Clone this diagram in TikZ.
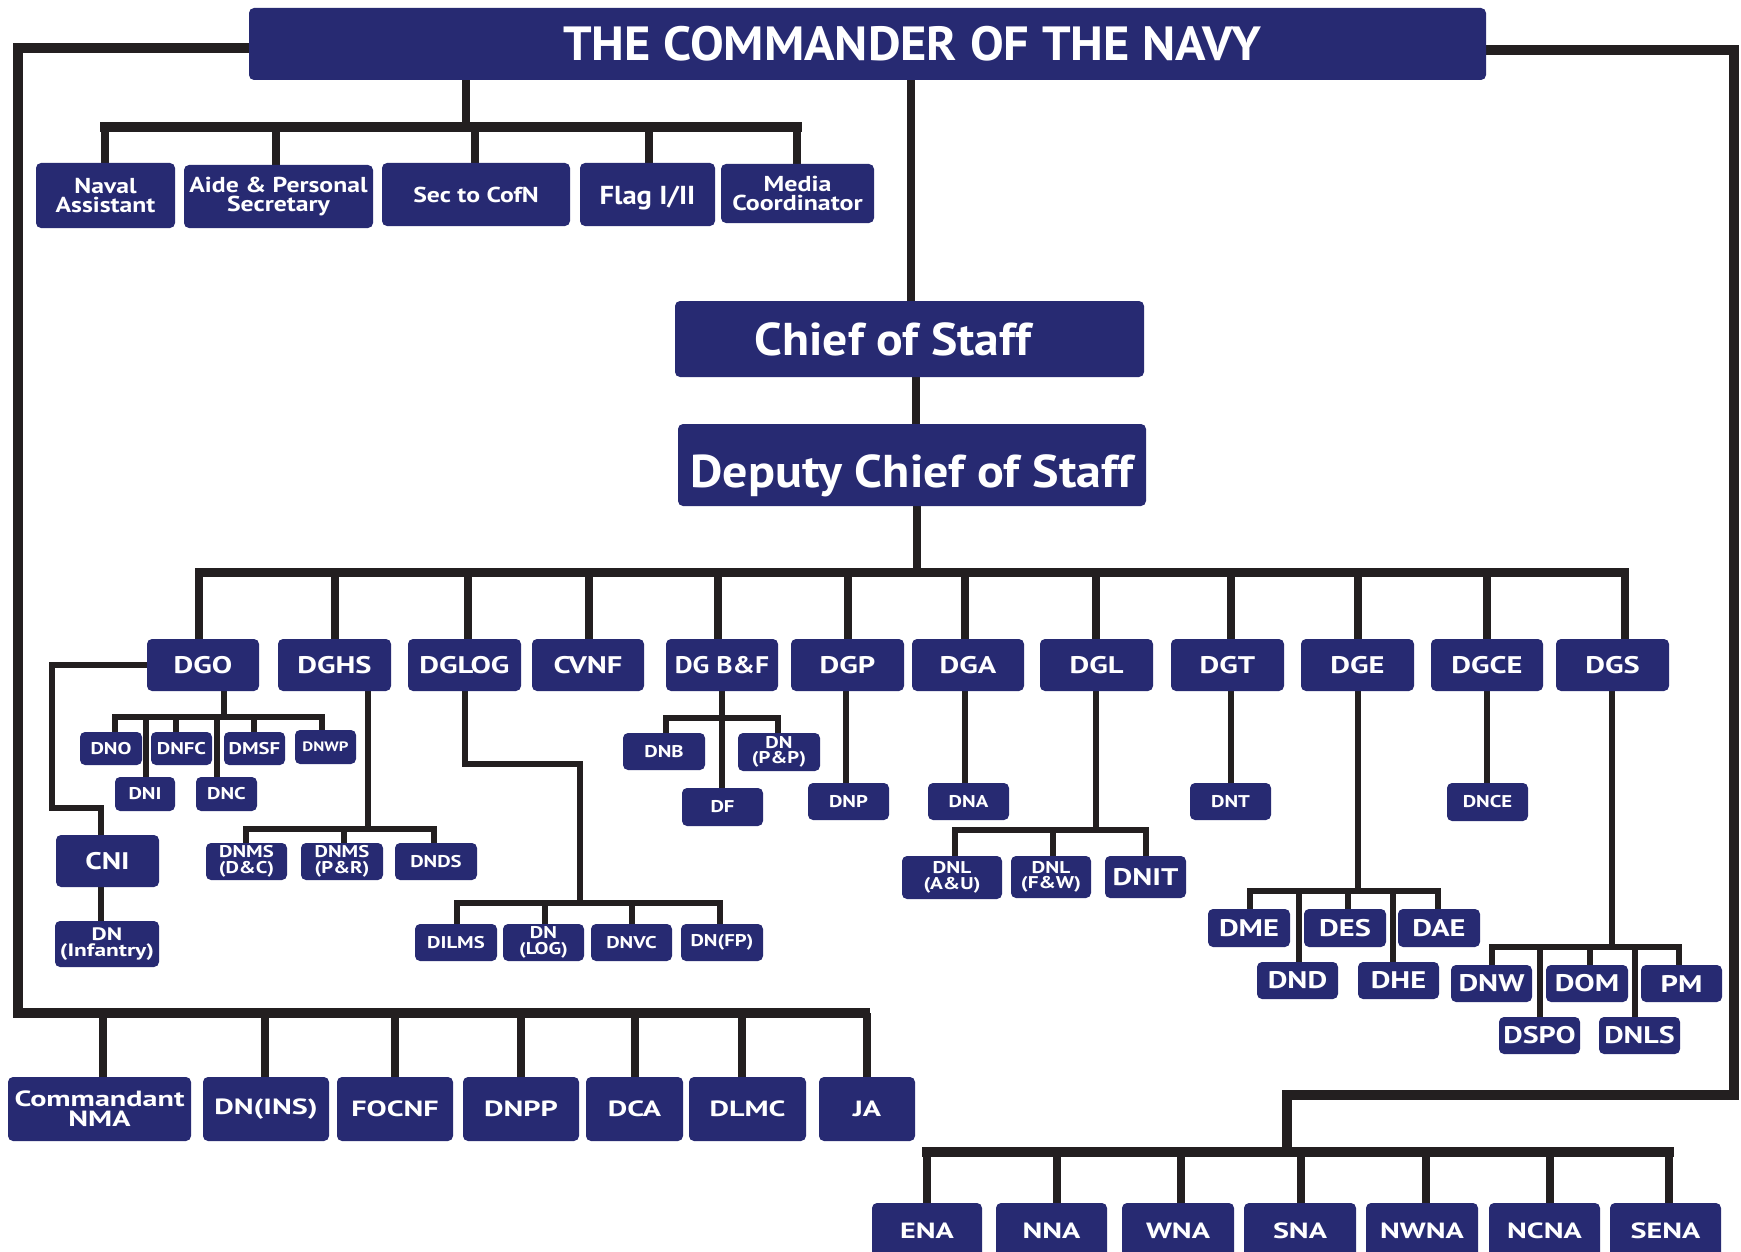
\documentclass[tikz,border=0pt]{standalone}
\usepackage{fontspec}
\setmainfont{PT Sans}
\usetikzlibrary{calc}
\pgfdeclarelayer{bg}
\pgfsetlayers{bg,main}
\definecolor{navy}{HTML}{272A72}
\definecolor{linec}{HTML}{231F20}
\newcommand\fs[1]{\fontsize{#1pt}{\fpeval{0.92*#1}pt}\selectfont}
\newcommand\bx[8][1.22]{%
  \node[box, minimum width={(#5-#3)*0.5pt}, minimum height={(#6-#4)*0.5pt},
        font={\bfseries\fs{#7}\addfontfeatures{FakeStretch=#1}}] (#2) at ({(#3+#5)/2},{(#4+#6)/2}) {#8};}
\begin{document}
\begin{tikzpicture}[x=0.5pt,y=-0.5pt,
  box/.style={fill=navy, text=white, rounded corners=2.5pt, inner sep=0pt, align=center},
  frame/.style={draw=linec, line width=5pt, line join=miter},
  conn/.style={draw=linec, line width=3.6pt},
  bar/.style={draw=linec, line width=5pt, line cap=rect},
  sub/.style={draw=linec, line width=3.1pt, line join=miter},
  subbar/.style={draw=linec, line width=3.1pt, line cap=rect}]
\useasboundingbox (0,0) rectangle (1741,1252);
\clip (0,0) rectangle (1741,1252);
% top
\bx[1.05]{title}{249}{8}{1486}{80}{24}{\hspace*{44.5pt}THE COMMANDER OF THE NAVY}
\bx[1.19]{naval}{36}{163}{175}{228}{10.8}{Naval\\Assistant}
\bx[1.19]{aide}{184}{165}{373}{228}{10.8}{Aide \& Personal\\Secretary}
\bx[1.19]{sec}{382}{163}{570}{226}{10.8}{Sec to CofN}
\bx[1.1]{flag}{580}{163}{715}{226}{13}{\raisebox{-4.9pt}[0pt][0pt]{Flag I/II}}
\bx[1.2]{media}{721}{164}{874}{223}{10.8}{Media\\Coordinator}
\bx[1.08]{cos}{675}{301}{1144}{377}{23}{Chief of Staff\hspace*{16.5pt}}
\bx[1.087]{dcos}{678}{424}{1146}{506}{23}{\raisebox{-11pt}[0pt][0pt]{Deputy Chief of Staff}}
% DG row
\bx[1.27]{dgo}{147}{639}{259}{691}{12}{DGO}
\bx[1.27]{dghs}{278}{639}{391}{691}{12}{DGHS}
\bx[1.27]{dglog}{408}{639}{521}{691}{12}{DGLOG}
\bx[1.27]{cvnf}{532}{639}{644}{691}{12}{CVNF}
\bx[1.15]{dgbf}{666}{639}{778}{691}{12}{DG B\&F}
\bx[1.27]{dgp}{791}{639}{904}{691}{12}{DGP}
\bx[1.27]{dga}{912}{639}{1024}{691}{12}{DGA}
\bx[1.27]{dgl}{1040}{639}{1153}{691}{12}{DGL}
\bx[1.27]{dgt}{1171}{639}{1284}{691}{12}{DGT}
\bx[1.27]{dge}{1301}{639}{1414}{691}{12}{DGE}
\bx[1.27]{dgce}{1431}{639}{1543}{691}{12}{DGCE}
\bx[1.27]{dgs}{1556}{639}{1669}{691}{12}{DGS}
% DGO subtree
\bx{dno}{80}{732}{142}{765}{8.5}{DNO}
\bx{dnfc}{151}{732}{212}{765}{8.5}{DNFC}
\bx{dmsf}{224}{732}{285}{765}{8.5}{DMSF}
\bx[1.24]{dnwp}{295}{730}{356}{764}{6.8}{DNWP}
\bx{dni}{115}{777}{175}{811}{8.5}{DNI}
\bx{dnc}{196}{777}{257}{811}{8.5}{DNC}
\bx[1.23]{cni}{56}{835}{159}{887}{12}{CNI}
\bx[1.3]{dninf}{55}{921}{159}{967}{9}{DN\\(Infantry)}
% DGHS subtree
\bx{dnmsdc}{206}{843}{287}{880}{8.5}{DNMS\\(D\&C)}
\bx{dnmspr}{301}{843}{383}{880}{8.5}{DNMS\\(P\&R)}
\bx{dnds}{395}{843}{477}{880}{8.5}{DNDS}
% DGLOG subtree
\bx{dilms}{415}{924}{497}{961}{8.5}{DILMS}
\bx{dnlog}{503}{924}{584}{961}{8.5}{DN\\(LOG)}
\bx{dnvc}{591}{924}{672}{961}{8.5}{DNVC}
\bx{dnfp}{681}{924}{763}{961}{8.5}{DN(FP)}
% DG B&F subtree
\bx{dnb}{623}{733}{705}{770}{8.5}{DNB}
\bx{dnpp}{738}{733}{820}{771}{8.5}{DN\\(P\&P)}
\bx{df}{682}{788}{763}{826}{8.5}{DF}
% single children
\bx{dnp}{808}{783}{889}{820}{8.5}{DNP}
\bx{dna}{928}{783}{1009}{820}{8.5}{DNA}
\bx{dnt}{1190}{783}{1271}{820}{8.5}{DNT}
\bx{dnce}{1447}{783}{1528}{821}{8.5}{DNCE}
% DGL subtree
\bx[1.25]{dnlau}{902}{856}{1002}{899}{8.5}{DNL\\(A\&U)}
\bx[1.25]{dnlfw}{1011}{856}{1091}{898}{8.5}{DNL\\(F\&W)}
\bx[1.27]{dnit}{1105}{856}{1186}{898}{12}{DNIT}
% DGE subtree
\bx[1.27]{dme}{1208}{909}{1290}{947}{12}{DME}
\bx[1.27]{des}{1304}{909}{1386}{947}{12}{DES}
\bx[1.27]{dae}{1398}{909}{1480}{947}{12}{DAE}
\bx[1.27]{dnd}{1257}{962}{1338}{999}{12}{DND}
\bx[1.27]{dhe}{1358}{962}{1439}{999}{12}{DHE}
% DGS subtree
\bx[1.27]{dnw}{1451}{965}{1532}{1002}{12}{DNW}
\bx[1.27]{dom}{1546}{965}{1628}{1002}{12}{DOM}
\bx[1.27]{pm}{1641}{965}{1722}{1002}{12}{PM}
\bx[1.25]{dspo}{1499}{1017}{1580}{1054}{12}{DSPO}
\bx[1.25]{dnls}{1599}{1017}{1680}{1054}{12}{DNLS}
% bottom left row
\bx[1.37]{cnma}{8}{1077}{191}{1141}{11}{Commandant\\NMA}
\bx[1.37]{dnins}{203}{1077}{329}{1141}{11}{DN(INS)}
\bx[1.37]{focnf}{337}{1077}{453}{1141}{11}{FOCNF}
\bx[1.37]{dnpp2}{463}{1077}{579}{1141}{11}{DNPP}
\bx[1.37]{dca}{586}{1077}{683}{1141}{11}{DCA}
\bx[1.37]{dlmc}{689}{1077}{806}{1141}{11}{DLMC}
\bx[1.37]{ja}{819}{1077}{915}{1141}{11}{JA}
% bottom right row
\bx[1.37]{ena}{872}{1203}{982}{1258}{11}{ENA}
\bx[1.37]{nna}{996}{1203}{1107}{1258}{11}{NNA}
\bx[1.37]{wna}{1122}{1203}{1234}{1258}{11}{WNA}
\bx[1.37]{sna}{1244}{1203}{1356}{1258}{11}{SNA}
\bx[1.37]{nwna}{1366}{1203}{1478}{1258}{11}{NWNA}
\bx[1.37]{ncna}{1489}{1203}{1600}{1258}{11}{NCNA}
\bx[1.37]{sena}{1610}{1203}{1721}{1258}{11}{SENA}

\begin{pgfonlayer}{bg}
% frames
\draw[frame] (title.west |- 0,48) -- (18,48) -- (18,1013) -- (870,1013);
\foreach \x/\n in {103/cnma,265/dnins,395/focnf,521/dnpp2,635/dca,742/dlmc,867/ja}
  \draw[conn] (\x,1013) -- (\x,0 |- \n.north);
\draw[frame] (title.east |- 0,50) -- (1734,50) -- (1734,1095) -- (1287,1095) -- (1287,1152);
\draw[bar] (927,1152) -- (1669,1152);
\foreach \x/\n in {927/ena,1057/nna,1181/wna,1301/sna,1426/nwna,1550/ncna,1669/sena}
  \draw[conn] (\x,1152) -- (\x,0 |- \n.north);
% staff row
\draw[conn] (466,0 |- title.south) -- (466,127);
\draw[bar] (105,127) -- (797,127);
\foreach \x/\n in {105/naval,276/aide,475/sec,649/flag,797/media}
  \draw[conn] (\x,127) -- (\x,0 |- \n.north);
% chief line
\draw[conn, line width=4pt] (911,0 |- title.south) -- (911,0 |- cos.north);
\draw[conn, line width=4pt] (916,0 |- cos.south) -- (916,0 |- dcos.north);
\draw[conn, line width=4pt] (917,0 |- dcos.south) -- (917,572);
\draw[draw=linec, line width=4.5pt] (195,572) -- (1629,572);
\foreach \x/\n in {199/dgo,335/dghs,468/dglog,589/cvnf,718/dgbf,848/dgp,965/dga,1096/dgl,1231/dgt,1358/dge,1487/dgce,1625/dgs}
  \draw[conn] (\x,572) -- (\x,0 |- \n.north);
% DGO
\draw[sub] (224,0 |- dgo.south) -- (224,717);
\draw[subbar] (115,717) -- (322,717);
\foreach \x/\n in {115/dno,146/dni,176/dnfc,217/dnc,254/dmsf,322/dnwp}
  \draw[sub] (\x,717) -- (\x,0 |- \n.north);
\draw[sub] (dgo.west |- 0,665) -- (52,665) -- (52,808) -- (101,808) -- (101,0 |- cni.north);
\draw[sub] (101,0 |- cni.south) -- (101,0 |- dninf.north);
% DGHS
\draw[sub] (368,0 |- dghs.south) -- (368,829);
\draw[subbar] (246,829) -- (434,829);
\foreach \x/\n in {246/dnmsdc,344/dnmspr,434/dnds}
  \draw[sub] (\x,829) -- (\x,0 |- \n.north);
% DGLOG
\draw[sub] (465,0 |- dglog.south) -- (465,764) -- (580,764) -- (580,903);
\draw[subbar] (457,903) -- (720,903);
\foreach \x/\n in {457/dilms,545/dnlog,632/dnvc,720/dnfp}
  \draw[sub] (\x,903) -- (\x,0 |- \n.north);
% DG B&F
\draw[sub] (722,0 |- dgbf.south) -- (722,0 |- df.north);
\draw[subbar] (666,718) -- (778,718);
\foreach \x/\n in {666/dnb,778/dnpp}
  \draw[sub] (\x,718) -- (\x,0 |- \n.north);
% singles
\draw[sub] (846,0 |- dgp.south) -- (846,0 |- dnp.north);
\draw[sub] (965,0 |- dga.south) -- (965,0 |- dna.north);
\draw[sub] (1231,0 |- dgt.south) -- (1231,0 |- dnt.north);
\draw[sub] (1487,0 |- dgce.south) -- (1487,0 |- dnce.north);
% DGL
\draw[sub] (1096,0 |- dgl.south) -- (1096,830);
\draw[subbar] (955,830) -- (1146,830);
\foreach \x/\n in {955/dnlau,1053/dnlfw,1146/dnit}
  \draw[sub] (\x,830) -- (\x,0 |- \n.north);
% DGE
\draw[sub] (1358,0 |- dge.south) -- (1358,891);
\draw[subbar] (1250,891) -- (1438,891);
\foreach \x/\n in {1250/dme,1299/dnd,1348/des,1393/dhe,1438/dae}
  \draw[sub] (\x,891) -- (\x,0 |- \n.north);
% DGS
\draw[sub] (1612,0 |- dgs.south) -- (1612,947);
\draw[subbar] (1492,947) -- (1679,947);
\foreach \x/\n in {1492/dnw,1540/dspo,1590/dom,1635/dnls,1679/pm}
  \draw[sub] (\x,947) -- (\x,0 |- \n.north);
\end{pgfonlayer}
\end{tikzpicture}
\end{document}
